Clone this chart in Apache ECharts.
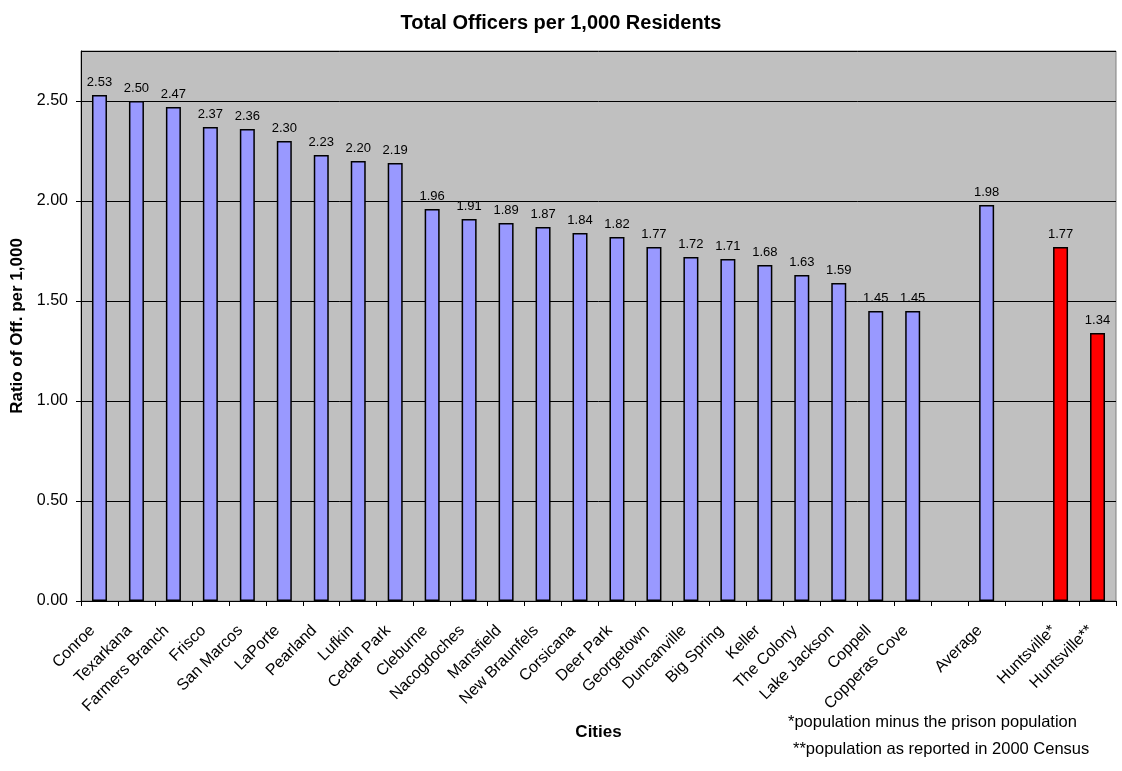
<!DOCTYPE html>
<html>
<head>
<meta charset="utf-8">
<script src="https://cdn.jsdelivr.net/npm/echarts@6/dist/echarts.min.js"></script>
<style>
  html, body { margin: 0; padding: 0; background: #ffffff; }
  #chart { width: 1122px; height: 771px; }
</style>
</head>
<body>
<div id="chart"></div>
<script>
// City names; empty strings are the spacer slots around "Average"
const categories = [
  'Conroe', 'Texarkana', 'Farmers Branch', 'Frisco', 'San Marcos', 'LaPorte',
  'Pearland', 'Lufkin', 'Cedar Park', 'Cleburne', 'Nacogdoches', 'Mansfield',
  'New Braunfels', 'Corsicana', 'Deer Park', 'Georgetown', 'Duncanville',
  'Big Spring', 'Keller', 'The Colony', 'Lake Jackson', 'Coppell', 'Copperas Cove',
  '', 'Average', '', 'Huntsville*', 'Huntsville**'
];

// Officers per 1,000 residents
const officerRatios = [
  2.53, 2.50, 2.47, 2.37, 2.36, 2.30,
  2.23, 2.20, 2.19, 1.96, 1.91, 1.89,
  1.87, 1.84, 1.82, 1.77, 1.72,
  1.71, 1.68, 1.63, 1.59, 1.45, 1.45,
  null, 1.98, null, 1.77, 1.34
];

// Cities drawn in the highlight colour
const highlighted = ['Huntsville*', 'Huntsville**'];

const footnotes = [
  '*population minus the prison population',
  '**population as reported in 2000 Census'
];

const FONT = 'Liberation Sans, Arial, sans-serif';

const barData = officerRatios.map((v, i) => ({
  value: v,
  itemStyle: { color: highlighted.includes(categories[i]) ? '#ff0000' : '#9999ff' }
}));

const chart = echarts.init(document.getElementById('chart'), null, { renderer: 'canvas' });

chart.setOption({
  animation: false,
  backgroundColor: '#ffffff',
  title: {
    text: 'Total Officers per 1,000 Residents',
    left: 'center',
    top: 8,
    textStyle: { fontFamily: FONT, fontSize: 20, fontWeight: 'bold', color: '#000' }
  },
  grid: {
    left: 81, right: 6, top: 51, bottom: 170,
    show: true,
    backgroundColor: '#c0c0c0',
    borderColor: '#808080',
    borderWidth: 1
  },
  xAxis: {
    type: 'category',
    data: categories,
    name: 'Cities',
    nameLocation: 'middle',
    nameGap: 123,
    nameTextStyle: { fontFamily: FONT, fontSize: 17, fontWeight: 'bold', color: '#000' },
    axisLine: { lineStyle: { color: '#000', width: 1 } },
    axisTick: { show: true, interval: 0, length: 5, lineStyle: { color: '#000' } },
    axisLabel: {
      interval: 0,
      rotate: 45,
      margin: 20,
      padding: [0, 10, 0, 0],
      fontFamily: FONT,
      fontSize: 16,
      color: '#000'
    }
  },
  yAxis: {
    type: 'value',
    min: 0,
    max: 2.75,
    interval: 0.5,
    name: 'Ratio of Off. per 1,000',
    nameLocation: 'middle',
    nameGap: 49,
    nameTextStyle: { fontFamily: FONT, fontSize: 17, fontWeight: 'bold', color: '#000' },
    axisLine: { show: true, lineStyle: { color: '#000', width: 1 } },
    axisTick: { show: true, length: 5, lineStyle: { color: '#000' } },
    axisLabel: {
      showMaxLabel: false,
      formatter: v => v.toFixed(2),
      fontFamily: FONT,
      fontSize: 16,
      color: '#000',
      margin: 13
    },
    splitLine: { show: true, lineStyle: { color: '#000', width: 1 } }
  },
  series: [{
    type: 'bar',
    data: barData,
    barWidth: 15,
    itemStyle: { borderColor: '#000', borderWidth: 1.5 },
    label: {
      show: true,
      position: 'top',
      distance: 6,
      formatter: p => (p.value == null ? '' : p.value.toFixed(2)),
      fontFamily: FONT,
      fontSize: 13,
      color: '#000'
    }
  }],
  graphic: footnotes.map((t, i) => ({
    type: 'text',
    left: 788 + i * 5,
    top: 714 + i * 27,
    style: { text: t, font: '16.5px ' + FONT, fill: '#000' }
  }))
});
</script>
</body>
</html>
